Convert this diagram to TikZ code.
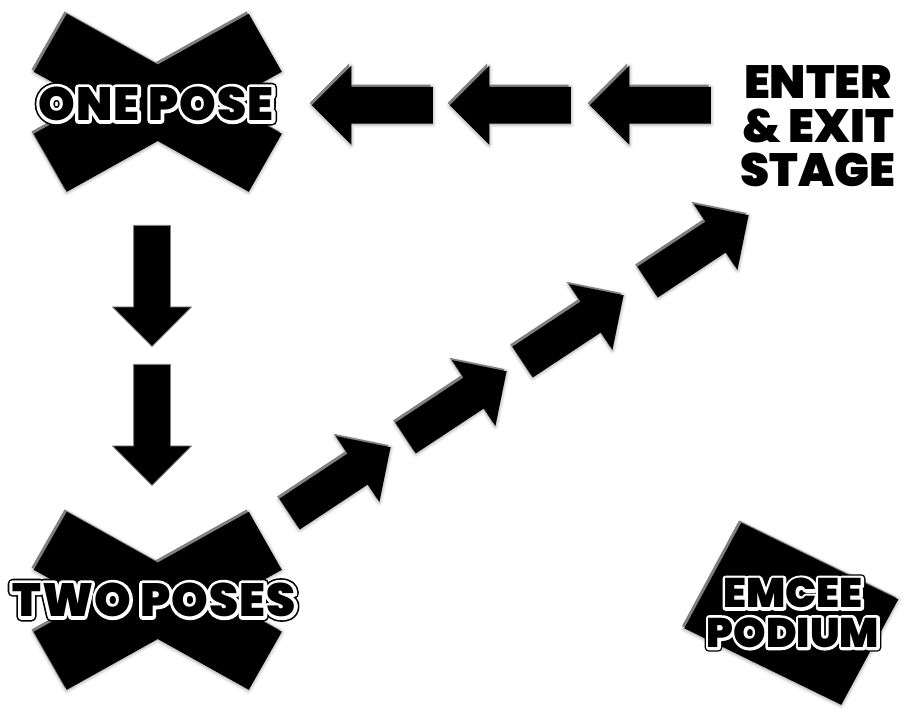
\documentclass[tikz,border=0pt]{standalone}
\usepackage{fontspec}
\setmainfont{Poppins}[BoldFont=* Black]
\usetikzlibrary{shapes.arrows,shadows.blur}

\newcommand{\halo}[1]{\rlap{\addfontfeatures{FakeBold=21}#1}\rlap{\color{white}\addfontfeatures{FakeBold=14}#1}#1}

\tikzset{
  blockarrow/.style={single arrow, fill=black, draw=black!50, line width=0.5pt,
    minimum height=24.2mm, inner xsep=0pt, inner ysep=3.6mm,
    single arrow head extend=4.2mm, single arrow tip angle=90, anchor=tail},
  soft/.style={blur shadow={shadow xshift=1.2pt, shadow yshift=-1.6pt,
    shadow blur steps=6, shadow opacity=45}},
  bevel/.style={draw=none, fill=black!50, soft,
    postaction={fill=black, transform canvas={shift={(1.3pt,-1.3pt)}}}},
  slab/.style={bevel},
  posetext/.style={font=\fontsize{26.5}{28}\selectfont\bfseries\addfontfeatures{LetterSpace=2.5}},
  podiumtext/.style={font=\fontsize{23.5}{22.5}\selectfont\bfseries, align=center},
  stagetext/.style={font=\fontsize{26.5}{25}\selectfont\bfseries, align=center},
  bowtie/.pic={
    \path[slab] (-91,-89) -- (124,31) -- (91,89) -- (-124,-31) -- cycle
                (91,-89) -- (124,-31) -- (-91,89) -- (-124,31) -- cycle;
  },
  podium/.pic={
    \path[slab] (-50,-91) -- (107,-14.5) -- (50,91) -- (-107,14.5) -- cycle;
  }
}

\begin{document}
\begin{tikzpicture}[x=0.2mm, y=-0.2mm, line join=round]
  \useasboundingbox (0,0) rectangle (915,713);

  \pic at (155.5,100.5) {bowtie};
  \pic at (155.5,598.5) {bowtie};
  \pic at (789,611.5) {podium};

  % stations
  \node[posetext] (one) at (156,104) {\halo{ONE POSE}};
  \node[posetext] (two) at (154,600) {\halo{TWO POSES}};
  \node[podiumtext] (emcee) at (793,613) {\halo{EMCEE}\\\halo{PODIUM}};
  \node[stagetext] (stage) at (818,126) {ENTER\\\& EXIT\\STAGE};

  % walk
  \foreach \x [count=\i] in {431,569,709}
    \node[blockarrow, bevel, rotate=180] (back\i) at (\x,103) {};
  \foreach \y [count=\i] in {225,364}
    \node[blockarrow, rotate=-90] (down\i) at (152,\y) {};
  \foreach \x/\y [count=\i] in {287/512,403/436,520/360,645/280}
    \node[blockarrow, bevel, rotate=33.5] (up\i) at (\x,\y) {};

\end{tikzpicture}
\end{document}
